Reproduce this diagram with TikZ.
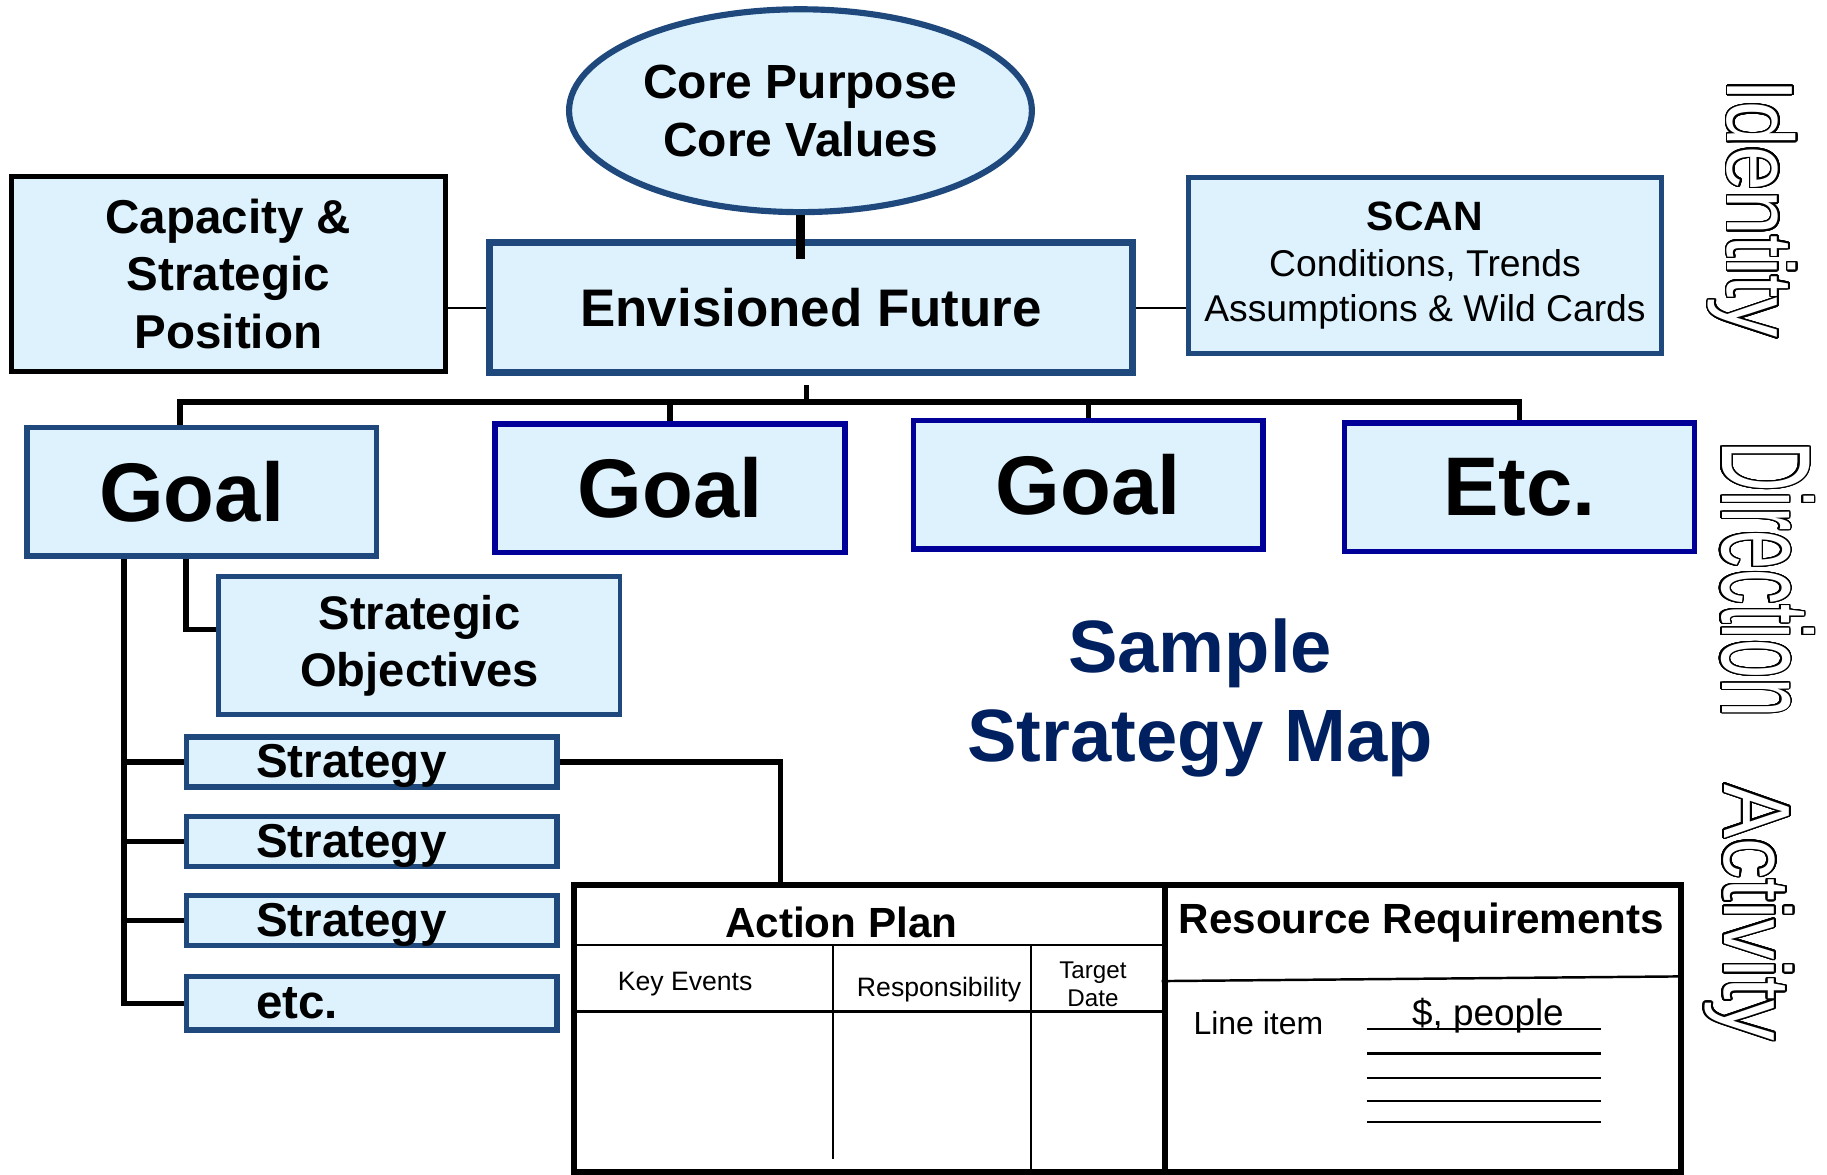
\documentclass[tikz,border=0pt]{standalone}
\usepackage{fontspec}
\setmainfont{Liberation Sans}
\usepackage{graphicx}
\usepackage{contour}
\contourlength{0.45pt}
\contournumber{32}
\usetikzlibrary{shapes.geometric}

\definecolor{boxfill}{HTML}{DDF2FD}
\definecolor{boxblue}{HTML}{1F497D}
\definecolor{goalnavy}{HTML}{000099}
\definecolor{titleblue}{HTML}{002060}

\tikzset{
  box/.style={draw=boxblue,fill=boxfill,line width=1.3pt,inner sep=0pt,align=center},
  goalbox/.style={box,minimum width=3cm,minimum height=1.1cm,font=\fontsize{20.3}{24}\selectfont\bfseries},
  stratbox/.style={box,minimum width=3.18cm,minimum height=0.43cm,text height=0.3cm,text depth=0.03cm,
    font=\fontsize{11.6}{14}\selectfont\bfseries},
  tablebox/.style={draw=black,line width=1.4pt,inner sep=0pt,minimum height=2.46cm,anchor=north west},
  conn/.style={line width=1.3pt},
  thinline/.style={line width=0.45pt},
  gridline/.style={line width=0.6pt},
  sidelabel/.style={rotate=-90,anchor=base,text=white,font=\fontsize{23}{23}\selectfont},
}
\newcommand{\leftin}[1]{\makebox[1.98cm][l]{#1}}

\begin{document}
\begin{tikzpicture}[x=0.01cm,y=-0.01cm]
    \useasboundingbox (0,0) rectangle (1568,1008);

    \node[box,ellipse,line width=1.5pt,minimum width=3.97cm,minimum height=1.74cm,
      font=\fontsize{11.7}{14.2}\selectfont\bfseries] (core) at (687,95) {Core Purpose\\Core Values};
    \node[box,line width=1.7pt,minimum width=5.51cm,minimum height=1.11cm,
      font=\fontsize{12.9}{15}\selectfont\bfseries] (ef) at (696,264) {Envisioned Future};
    \node[box,draw=black,line width=1.2pt,minimum width=3.72cm,minimum height=1.67cm,
      font=\fontsize{11.6}{14.1}\selectfont\bfseries] (cap) at (196,235) {Capacity \&\\Strategic\\Position};
    \node[box,line width=1.2pt,minimum width=4.05cm,minimum height=1.51cm,
      font=\fontsize{9.1}{11.1}\selectfont] (scan) at (1223,228)
      {{\fontsize{10}{12}\selectfont\bfseries SCAN}\\Conditions, Trends\\Assumptions \& Wild Cards};

    \draw[conn,line width=2.4pt] (core.south) -- ++(0,38);
    \draw[thinline] (ef.west) -- (ef.west -| cap.east);
    \draw[thinline] (ef.east) -- (ef.east -| scan.west);

    % goals
    \node[goalbox,line width=1.4pt] (g1) at (173,422) {\hspace*{-0.17cm}Goal};
    \node[goalbox,draw=goalnavy] (g2) at (575,419) {Goal};
    \node[goalbox,draw=goalnavy] (g3) at (934,416) {Goal};
    \node[goalbox,draw=goalnavy] (g4) at (1304,418) {Etc.};

    \coordinate (bus) at (692,345);
    \draw[conn] (bus) -- ++(0,-15);
    \draw[conn] ([xshift=-.185cm]g1.north) |- (bus) -| (g4.north);
    \foreach \g in {g2,g3}
      \draw[conn] (\g.north) -- (\g.north |- bus);

    \node[box,line width=1.2pt,minimum width=3.44cm,minimum height=1.18cm,
      font=\fontsize{11.5}{13.9}\selectfont\bfseries] (obj) at (360,554) {Strategic\\Objectives};
    \node[stratbox] (s1) at (319,654) {\leftin{Strategy}};
    \node[stratbox] (s2) at (319,722) {\leftin{Strategy}};
    \node[stratbox] (s3) at (319,790) {\leftin{Strategy}};
    \node[stratbox,minimum height=0.46cm] (s4) at (319,861) {\leftin{etc.}};

    \coordinate (spine) at ([xshift=-.665cm]g1.south);
    \draw[conn] (spine) |- (s4.west);
    \foreach \s in {s1,s2,s3}
      \draw[conn] (\s.west) -- (\s.west -| spine);
    \draw[conn] ([xshift=-.135cm]g1.south) |- ([yshift=.14cm]obj.west);

    \node[titleblue,font=\fontsize{18.1}{21.9}\selectfont\bfseries,align=center] (title) at (1030,599)
      {Sample\\Strategy Map};

    % action plan and resources
    \node[tablebox,minimum width=5.07cm] (plan) at (490,757) {};
    \node[tablebox,minimum width=4.43cm] (res) at (997,757) {};
    \draw[conn] (s1.east) -| ([xshift=1.8cm]plan.north west);

    \draw[gridline] (490,811) -- (997,811);
    \draw[gridline] (490,868) -- (997,868);
    \draw[thinline] (715,811) -- (715,995);
    \draw[thinline] (885,811) -- (885,1003);
    \draw[gridline] (997,842) -- (1440,838);
    \foreach \y in {883,904,925,945,963}
      \draw[gridline] (1173,\y) -- (1374,\y);

    \node[font=\fontsize{10.3}{12}\selectfont\bfseries] (aphead) at (722,792) {Action Plan};
    \node[font=\fontsize{10.3}{12}\selectfont\bfseries] (reshead) at (1220,792) {Resource Requirements};
    \node[font=\fontsize{6.5}{8}\selectfont] (keyev) at (588,845) {Key Events};
    \node[font=\fontsize{6.5}{8}\selectfont] (resp) at (806,849) {Responsibility};
    \node[font=\fontsize{5.9}{6.8}\selectfont,align=center] (target) at (938,845) {Target\\Date};
    \node[font=\fontsize{7.8}{9}\selectfont] (lineitem) at (1080,878) {Line item};
    \node[font=\fontsize{9}{11}\selectfont] (people) at (1277,872) {\$, people};

    % side labels
    \node[sidelabel] (identity) at (1483,179) {\scalebox{0.85}[1]{\contour{black}{Identity}}};
    \node[sidelabel,font=\fontsize{31}{31}\selectfont] (direction) at (1478,497) {\scalebox{0.55}[1]{\contour{black}{Direction}}};
    \node[sidelabel] (activity) at (1480,783) {\scalebox{0.86}[1]{\contour{black}{Activity}}};
\end{tikzpicture}
\end{document}
